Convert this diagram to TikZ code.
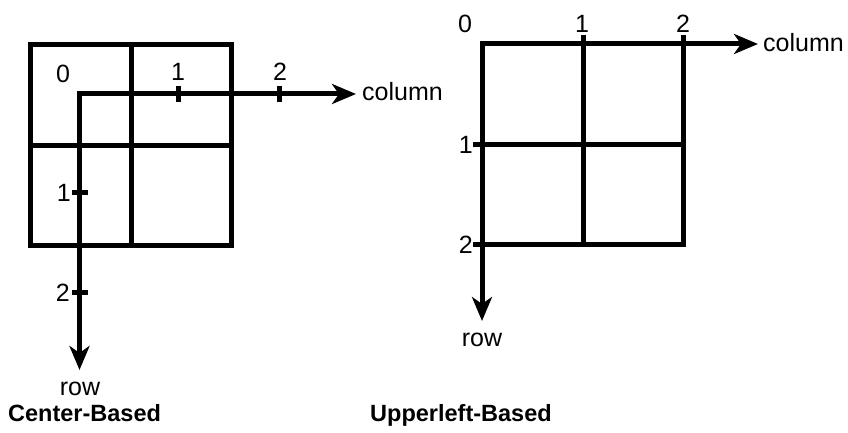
\documentclass[tikz,border=0pt]{standalone}
\usepackage{fontspec}
\setmainfont{Liberation Sans}
\usetikzlibrary{arrows.meta}
\begin{document}
\begin{tikzpicture}[x=1bp,y=-1bp,
  gridline/.style={line width=5bp},
  axisline/.style={line width=5bp,-{Stealth[length=24bp,width=20bp,inset=7bp]}},
  tickmark/.style={line width=5bp},
  lbl/.style={inner sep=0pt,font=\fontsize{25bp}{29bp}\selectfont},
  ttl/.style={inner sep=0pt,font=\fontsize{23.5bp}{27bp}\selectfont\bfseries,anchor=base west}]
\useasboundingbox (0,0) rectangle (848,433);
% ---------- left: center-based ----------
\draw[gridline] (30.5,45) rectangle (231,245.5);
\draw[gridline] (131,45) -- (131,245.5);
\draw[gridline] (30.5,146) -- (231,146);
\coordinate (lo) at (79.5,94);
\coordinate (lcol) at (356,94);
\coordinate (lrow) at (79.5,370);
\draw[axisline] (lcol -| lo) ++(-2.5,0) -- (lcol);
\draw[axisline] (lo) -- (lrow);
\draw[tickmark] (178,86) -- (178,102);
\draw[tickmark] (279,86) -- (279,102);
\draw[tickmark] (71.5,193) -- (87.5,193);
\draw[tickmark] (71.5,293) -- (87.5,293);
\node[lbl,anchor=base] (l0) at (63,83) {0};
\node[lbl,anchor=base] (lc1) at (178,81) {1};
\node[lbl,anchor=base] (lc2) at (280,81) {2};
\node[lbl,anchor=east] (lr1) at (71,193) {1};
\node[lbl,anchor=east] (lr2) at (70,293) {2};
\node[lbl,anchor=base west] (lcolt) at (362,101) {column};
\node[lbl,anchor=base] (lrowt) at (80,395) {row};
\node[ttl] (t1) at (8,421) {Center-Based};
% ---------- right: upper-left-based ----------
\draw[gridline] (482,44) -- (482,245) -- (683,245) -- (683,44);
\draw[gridline] (583,44) -- (583,245);
\draw[gridline] (482,145) -- (683,145);
\coordinate (ro) at (482,44);
\coordinate (rcol) at (758,44);
\coordinate (rrow) at (482,321);
\draw[axisline] (ro) ++(-2.5,0) -- (rcol);
\draw[axisline] (ro) -- (rrow);
\draw[tickmark] (583,35) -- (583,50);
\draw[tickmark] (683,35) -- (683,50);
\draw[tickmark] (473,145) -- (490,145);
\draw[tickmark] (473,245) -- (490,245);
\node[lbl,anchor=base] (r0) at (465,33) {0};
\node[lbl,anchor=base] (rc1) at (582,33) {1};
\node[lbl,anchor=base] (rc2) at (683,33) {2};
\node[lbl,anchor=east] (rr1) at (473,145) {1};
\node[lbl,anchor=east] (rr2) at (473,245) {2};
\node[lbl,anchor=base west] (rcolt) at (763,52) {column};
\node[lbl,anchor=base] (rrowt) at (482,347) {row};
\node[ttl] (t2) at (370,421) {Upperleft-Based};
\end{tikzpicture}
\end{document}
